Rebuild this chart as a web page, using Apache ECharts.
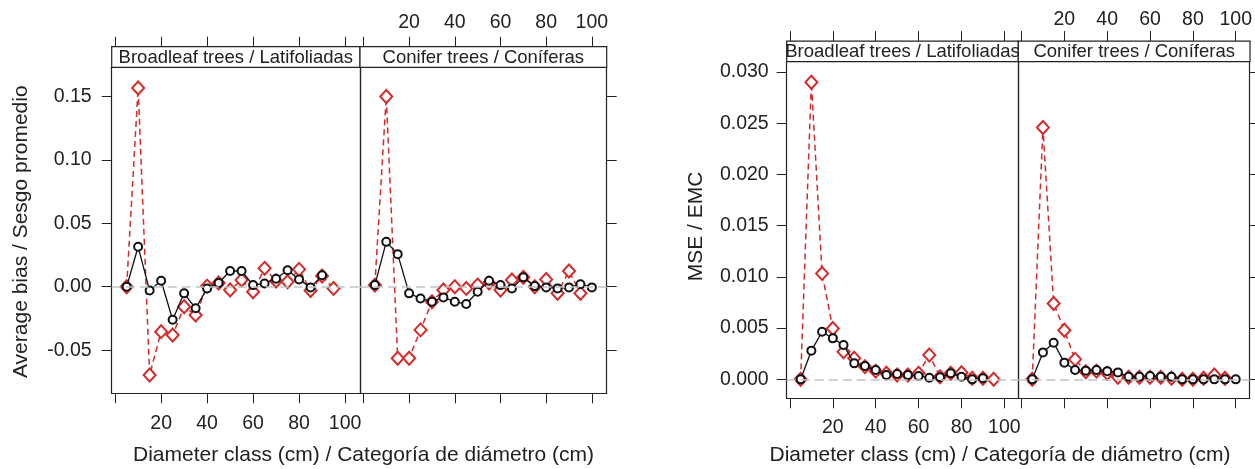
<!DOCTYPE html>
<html>
<head>
<meta charset="UTF-8">
<title>Bias and MSE by diameter class</title>
<script src="https://cdn.jsdelivr.net/npm/echarts@6/dist/echarts.min.js"></script>
<style>
  body { margin: 0; background: #fff; }
  #chart { width: 1255px; height: 469px; }
</style>
</head>
<body>
<div id="chart"></div>
<script>
// diameter classes (cm)
const diam = [5, 10, 15, 20, 25, 30, 35, 40, 45, 50, 55, 60, 65, 70, 75, 80, 85, 90, 95, 100];

// average bias, broadleaf
const biasBroadBlack = [0.000, 0.0315, -0.003, 0.0047, -0.026, -0.0052, -0.017, -0.0013, 0.003, 0.0124, 0.0124, 0.0013, 0.0026, 0.0063, 0.013, 0.0058, -0.0005, 0.009];
const biasBroadRed = [0.000, 0.1567, -0.0695, -0.0354, -0.038, -0.0157, -0.0223, 0.0005, 0.003, -0.0026, 0.0053, -0.004, 0.0145, 0.0045, 0.004, 0.0137, -0.003, 0.0084, -0.0013];
// average bias, conifer
const biasConBlack = [0.0013, 0.0354, 0.0257, -0.0052, -0.0092, -0.0118, -0.0084, -0.0118, -0.0136, -0.0039, 0.0047, 0.0013, -0.0013, 0.0074, 0.0005, -0.0005, -0.0013, -0.0005, 0.002, -0.0005];
const biasConRed = [0.0013, 0.150, -0.0564, -0.0564, -0.034, -0.0118, -0.0026, 0.0, -0.0013, 0.0013, 0.003, -0.0026, 0.0053, 0.0074, 0.0, 0.0058, -0.0052, 0.0124, -0.0052];

// MSE, broadleaf
const mseBroadBlack = [0, 0.0028, 0.00465, 0.0040, 0.00335, 0.00156, 0.0013, 0.00091, 0.00042, 0.00052, 0.00042, 0.00033, 0.00016, 0.0002, 0.00059, 0.00026, 0, 0.0001];
const mseBroadRed = [0, 0.0290, 0.01034, 0.00497, 0.0027, 0.00205, 0.00124, 0.0008, 0.00059, 0.00042, 0.00042, 0.00059, 0.00237, 0.00026, 0.00059, 0.00065, 0.0001, 0.0001, 0];
// MSE, conifer
const mseConBlack = [0, 0.00263, 0.00358, 0.00163, 0.00091, 0.00085, 0.00091, 0.0008, 0.00068, 0.00026, 0.00026, 0.00033, 0.00026, 0.00026, 0, 0, 0, 0, 0, 0];
const mseConRed = [0, 0.02457, 0.0074, 0.0048, 0.00195, 0.00075, 0.0008, 0.00059, 0.0002, 0.0002, 0.0002, 0.0002, 0.0002, 0.0001, 0, 0, 0.0001, 0.00042, 0.0001];

const xTicks = [0, 20, 40, 60, 80, 100];
const xLabels = [20, 40, 60, 80, 100];
const biasTicks = [-0.05, 0, 0.05, 0.10, 0.15];
const mseTicks = [0, 0.005, 0.010, 0.015, 0.020, 0.025, 0.030];

const stripNames = ['Broadleaf trees / Latifoliadas', 'Conifer trees / Coníferas'];
const xTitle = 'Diameter class (cm) / Categoría de diámetro (cm)';
const yTitles = ['Average bias / Sesgo promedio', 'MSE / EMC'];

const FONT = "'Liberation Sans', Arial, sans-serif";
const RED = '#d42a2a';
const INK = '#222';
const STRIP = 20.6;

const grids = [
  { left: 111.7, top: 67.3, width: 248.3, height: 326 },
  { left: 360, top: 67.3, width: 246.7, height: 326 },
  { left: 786.7, top: 61.7, width: 231.6, height: 336.6 },
  { left: 1018.3, top: 61.7, width: 231.7, height: 336.6 }
];

const chart = echarts.init(document.getElementById('chart'));

function pairs(vals) { return vals.map((v, i) => [diam[i], v]); }

function ticks(show, values) {
  return { show: show, customValues: values, length: 10, inside: false, lineStyle: { color: INK, width: 1 } };
}
function labels(show, values, margin, fmt) {
  const l = { show: show, customValues: values, margin: margin, fontFamily: FONT, fontSize: 19.5, color: INK };
  if (fmt) l.formatter = fmt;
  return l;
}
const line = { show: true, onZero: false, lineStyle: { color: INK, width: 1.2 } };

const xAxis = [], yAxis = [];
grids.forEach((g, i) => {
  const first = i % 2 === 0;
  const isMse = i >= 2;
  xAxis.push({
    type: 'value', gridIndex: i, position: 'bottom', min: -1.5, max: 106.5,
    axisLine: line, splitLine: { show: false },
    axisTick: ticks(true, xTicks),
    axisLabel: labels(first, xLabels, isMse ? 19 : 20)
  });
  // top axis sits above the strip
  xAxis.push({
    type: 'value', gridIndex: i, position: 'top', offset: STRIP, min: -1.5, max: 106.5,
    axisLine: line, splitLine: { show: false },
    axisTick: ticks(true, xTicks),
    axisLabel: labels(!first, xLabels, isMse ? 11.5 : 14.5)
  });
  const yMin = isMse ? -0.00185 : -0.084;
  const yMax = isMse ? 0.031 : 0.173;
  const yt = isMse ? mseTicks : biasTicks;
  const dec = isMse ? 3 : 2;
  yAxis.push({
    type: 'value', gridIndex: i, position: 'left', min: yMin, max: yMax,
    axisLine: line, splitLine: { show: false },
    axisTick: ticks(first, yt),
    axisLabel: labels(first, yt, isMse ? 18 : 20, v => v.toFixed(dec))
  });
  yAxis.push({
    type: 'value', gridIndex: i, position: 'right', min: yMin, max: yMax,
    axisLine: line, splitLine: { show: false },
    axisTick: ticks(!first, yt),
    axisLabel: { show: false }
  });
});

const panelData = [
  [biasBroadBlack, biasBroadRed],
  [biasConBlack, biasConRed],
  [mseBroadBlack, mseBroadRed],
  [mseConBlack, mseConRed]
];

const series = [];
panelData.forEach((d, i) => {
  const ax = { xAxisIndex: 2 * i, yAxisIndex: 2 * i };
  series.push(Object.assign({
    type: 'line', data: [], z: 1, silent: true,
    markLine: {
      silent: true, symbol: 'none', label: { show: false },
      lineStyle: { color: '#c4c4c4', type: [9, 5], width: 1.5 },
      data: [{ yAxis: 0 }]
    }
  }, ax));
  series.push(Object.assign({
    type: 'line', data: pairs(d[1]), z: 3,
    symbol: 'emptyDiamond', symbolSize: [12, 13], showAllSymbol: true,
    lineStyle: { color: RED, width: 1.5, type: [6, 4] },
    itemStyle: { color: RED, borderColor: RED, borderWidth: 1 }
  }, ax));
  series.push(Object.assign({
    type: 'line', data: pairs(d[0]), z: 4,
    symbol: 'emptyCircle', symbolSize: 8, showAllSymbol: true,
    lineStyle: { color: '#111', width: 1.3 },
    itemStyle: { color: '#111', borderColor: '#111', borderWidth: 1.1 }
  }, ax));
});

const graphic = [];
grids.forEach((g, i) => {
  graphic.push({
    type: 'rect', shape: { x: g.left, y: g.top - STRIP, width: g.width, height: STRIP },
    style: { fill: '#fff', stroke: INK, lineWidth: 1.2 }, z: 10
  });
  graphic.push({
    type: 'text', x: g.left + g.width / 2, y: g.top - STRIP / 2 + 1,
    style: { text: stripNames[i % 2], font: '18.5px ' + FONT, fill: INK,
      textAlign: 'center', textVerticalAlign: 'middle' }, z: 11
  });
});
const titleStyle = t => ({ text: t, font: '21px ' + FONT, fill: INK, textAlign: 'center', textVerticalAlign: 'middle' });
graphic.push(
  { type: 'text', x: 363.5, y: 455, style: titleStyle(xTitle) },
  { type: 'text', x: 1000, y: 455, style: titleStyle(xTitle) },
  { type: 'text', x: 21.7, y: 231.7, rotation: Math.PI / 2, style: titleStyle(yTitles[0]) },
  { type: 'text', x: 696.7, y: 226.5, rotation: Math.PI / 2, style: titleStyle(yTitles[1]) }
);

chart.setOption({
  animation: false,
  grid: grids.map(g => Object.assign({ show: false, containLabel: false }, g)),
  xAxis: xAxis,
  yAxis: yAxis,
  series: series,
  graphic: graphic
});
</script>
</body>
</html>
